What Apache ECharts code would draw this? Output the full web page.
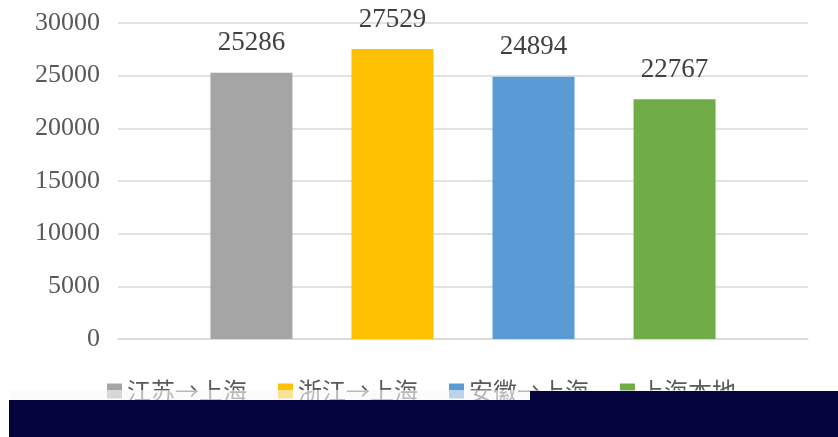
<!DOCTYPE html>
<html>
<head>
<meta charset="utf-8">
<script src="https://cdn.jsdelivr.net/npm/echarts@6/dist/echarts.min.js"></script>
<style>
  html, body { margin: 0; padding: 0; background: #fff; }
  #chart { width: 838px; height: 437px; }
</style>
</head>
<body>
<div id="chart"></div>
<script>
// 数据
const seriesNames = ['江苏→上海', '浙江→上海', '安徽→上海', '上海本地']
const seriesValues = [25286, 27529, 24894, 22767]
const seriesColors = ['#a5a5a5', '#ffc000', '#5b9bd5', '#70ad47']
const yTicks = [0, 5000, 10000, 15000, 20000, 25000, 30000]

const chart = echarts.init(document.getElementById('chart'))

const series = seriesNames.map((name, i) => ({
  name: name,
  type: 'bar',
  data: [seriesValues[i]],
  barWidth: 82,
  barGap: '72%',
  itemStyle: { color: seriesColors[i] },
  label: {
    show: true,
    position: 'top',
    distance: 16,
    fontFamily: 'Liberation Serif',
    fontSize: 27,
    color: '#404040'
  }
}))

chart.setOption({
  animation: false,
  grid: { left: 118, right: 30, top: 23, bottom: 98 },
  legend: {
    data: seriesNames,
    left: 102,
    top: 374,
    icon: 'rect',
    itemWidth: 15,
    itemHeight: 15,
    itemGap: 31,
    textStyle: {
      fontFamily: 'Noto Sans CJK SC',
      fontSize: 24,
      color: '#595959'
    }
  },
  xAxis: {
    type: 'category',
    data: [''],
    axisLine: { show: true, lineStyle: { color: '#d9d9d9', width: 1.5 } },
    axisTick: { show: false },
    axisLabel: { show: false }
  },
  yAxis: {
    type: 'value',
    min: yTicks[0],
    max: yTicks[yTicks.length - 1],
    interval: 5000,
    axisLine: { show: false },
    axisTick: { show: false },
    splitLine: { lineStyle: { color: '#d9d9d9', width: 1.5 } },
    axisLabel: {
      margin: 18,
      formatter: v => String(v),
      fontFamily: 'Liberation Serif',
      fontSize: 26,
      color: '#595959'
    }
  },
  graphic: [
    { type: 'rect', z: 100, shape: { x: 9, y: 390, width: 829, height: 10 }, style: { fill: '#f8f8fd', opacity: 0.6 } },
    { type: 'rect', z: 100, shape: { x: 9, y: 400, width: 829, height: 37 }, style: { fill: '#05053d' } },
    { type: 'rect', z: 100, shape: { x: 530, y: 391, width: 308, height: 10 }, style: { fill: '#05053d' } }
  ],
  series: series
})
</script>
</body>
</html>
